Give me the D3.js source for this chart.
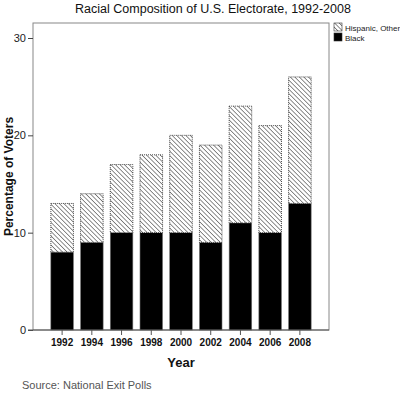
<!DOCTYPE html>
<html>
<head>
<script src="https://cdn.jsdelivr.net/npm/d3@7"></script>
<style>
  body { margin: 0; background: #fff; }
  text { font-family: Arial, "Liberation Sans", sans-serif; }
</style>
</head>
<body>
<div id="chart"></div>
<script>
var years = ["1992", "1994", "1996", "1998", "2000", "2002", "2004", "2006", "2008"];
var black = [8, 9, 10, 10, 10, 9, 11, 10, 13];
var hispanicOther = [5, 5, 7, 8, 10, 10, 12, 11, 13];
var yTicks = [0, 10, 20, 30];

var width = 400, height = 399;
var plotL = 33, plotR = 329, plotT = 23, plotB = 330;

var svg = d3.select("#chart").append("svg")
  .attr("width", width)
  .attr("height", height);

// hatch pattern
var defs = svg.append("defs");
var pat = defs.append("pattern")
  .attr("id", "hatch")
  .attr("patternUnits", "userSpaceOnUse")
  .attr("width", 3.2)
  .attr("height", 3.2)
  .attr("patternTransform", "rotate(-45)");
pat.append("rect").attr("width", 3.2).attr("height", 3.2).attr("fill", "#fff");
pat.append("line")
  .attr("x1", 0).attr("y1", 0).attr("x2", 0).attr("y2", 3.2)
  .attr("stroke", "#333").attr("stroke-width", 1.1);

var x = d3.scaleBand().domain(years).range([plotL, plotR]).paddingInner(0.24).paddingOuter(0.6);
var y = d3.scaleLinear().domain([0, 30]).range([plotB, 38]);

// frame
svg.append("rect")
  .attr("x", plotL).attr("y", plotT)
  .attr("width", plotR - plotL).attr("height", plotB - plotT)
  .attr("fill", "none").attr("stroke", "#888").attr("stroke-width", 1);

var rows = years.map(function(d, i) { return {year: d, b: black[i], h: hispanicOther[i]}; });

svg.selectAll(".blk").data(rows).enter().append("rect")
  .attr("x", function(d) { return x(d.year); })
  .attr("y", function(d) { return y(d.b); })
  .attr("width", x.bandwidth())
  .attr("height", function(d) { return y(0) - y(d.b); })
  .attr("fill", "#000").attr("stroke", "#777").attr("stroke-width", 0.6);

svg.selectAll(".hsp").data(rows).enter().append("rect")
  .attr("x", function(d) { return x(d.year); })
  .attr("y", function(d) { return y(d.b + d.h); })
  .attr("width", x.bandwidth())
  .attr("height", function(d) { return y(d.b) - y(d.b + d.h); })
  .attr("fill", "url(#hatch)").attr("stroke", "#222").attr("stroke-width", 0.8)
  .attr("stroke-dasharray", "1,1");

// y axis
var yAxis = svg.append("g").attr("transform", "translate(" + plotL + ",0)")
  .call(d3.axisLeft(y).tickValues(yTicks).tickSize(5).tickPadding(2));
yAxis.select(".domain").remove();
yAxis.selectAll("line").attr("stroke", "#444");
yAxis.selectAll("text").attr("font-size", 11).attr("fill", "#222");

// x axis
var xAxis = svg.append("g").attr("transform", "translate(0," + plotB + ")")
  .call(d3.axisBottom(x).tickSize(5).tickPadding(4));
xAxis.select(".domain").attr("d", "M" + (plotL - 5) + ",0H" + plotR).attr("stroke", "#555");
xAxis.selectAll("line").attr("stroke", "#555");
xAxis.selectAll("text").attr("font-size", 10).attr("font-weight", "bold").attr("fill", "#111");

// titles
svg.append("text").attr("x", 213).attr("y", 13).attr("text-anchor", "middle")
  .attr("font-size", 12.5).attr("fill", "#111").text("Racial Composition of U.S. Electorate, 1992-2008");
svg.append("text").attr("x", 181).attr("y", 367).attr("text-anchor", "middle")
  .attr("font-size", 13).attr("font-weight", "bold").attr("fill", "#111").text("Year");
svg.append("text").attr("transform", "translate(13," + ((plotT + plotB) / 2) + ") rotate(-90)")
  .attr("text-anchor", "middle").attr("font-size", 12).attr("font-weight", "bold")
  .attr("fill", "#111").text("Percentage of Voters");
svg.append("text").attr("x", 22).attr("y", 389)
  .attr("font-size", 11).attr("fill", "#555").text("Source: National Exit Polls");

// legend
var legend = [{label: "Hispanic, Other", fill: "url(#hatch)"}, {label: "Black", fill: "#000"}];
var lg = svg.selectAll(".lg").data(legend).enter().append("g")
  .attr("transform", function(d, i) { return "translate(334," + (23 + i * 10) + ")"; });
lg.append("rect").attr("width", 8).attr("height", 8)
  .attr("fill", function(d) { return d.fill; }).attr("stroke", "#333").attr("stroke-width", 0.6);
lg.append("text").attr("x", 11).attr("y", 7.5).attr("font-size", 8).attr("fill", "#222")
  .text(function(d) { return d.label; });
</script>
</body>
</html>
